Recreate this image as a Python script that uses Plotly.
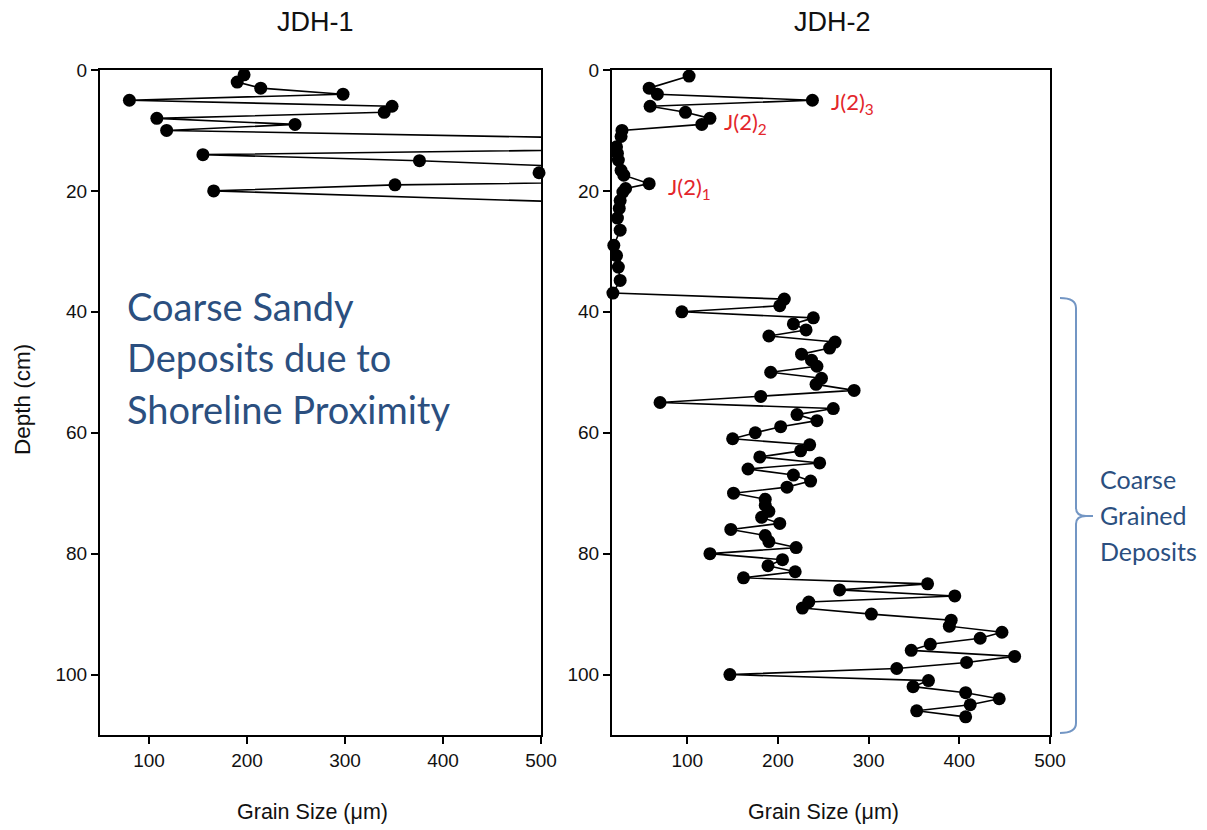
import plotly.graph_objects as go

# ---------------- data ----------------
jdh1_depth = [0.8, 2, 3, 4, 5, 6, 7, 8, 9, 10, 12.4, 14, 15, 16, 17, 18, 19, 20, 22]
jdh1_size = [197, 190, 214, 298, 80, 348, 340, 108, 249, 118, 945, 155, 376, 530, 498, 850, 351, 166, 560]

jdh2_depth = [1, 3, 4, 5, 6, 7, 8, 9, 10, 11, 12.7, 13.8, 14.9, 16.6, 17.4, 18.8, 19.6, 20.2,
              21.6, 22.9, 24.5, 26.5, 29, 30.7, 32.6, 34.8, 36.9, 37.9, 39, 40,
              41, 42, 43, 44, 45, 46, 47, 48, 49, 50, 51, 52, 53, 54, 55, 56, 57, 58, 59, 60,
              61, 62, 63, 64, 65, 66, 67, 68, 69, 70, 71, 72, 73, 74, 75, 76, 77, 78, 79, 80,
              81, 82, 83, 84, 85, 86, 87, 88, 89, 90, 91, 92, 93, 94, 95, 96, 97, 98, 99, 100,
              101, 102, 103, 104, 105, 106, 107]
jdh2_size = [102, 58, 67, 238, 59, 98, 125, 116, 28, 27, 22, 23, 24, 27, 30, 58, 32, 29,
             26, 25, 23, 26, 19, 22, 24, 26, 18, 207, 202, 94,
             239, 217, 231, 190, 263, 257, 226, 237, 243, 192, 248, 242, 284, 181, 70, 261, 221, 243, 203, 175,
             150, 235, 225, 180, 246, 167, 217, 236, 210, 151, 186, 186, 190, 182, 202, 148, 186, 190, 220, 125,
             205, 189, 219, 162, 365, 268, 395, 234, 227, 303, 391, 389, 447, 423, 368, 347, 461, 408, 331, 147,
             366, 349, 407, 444, 412, 353, 407]

x_ticks = [100, 200, 300, 400, 500]
y_ticks = [0, 20, 40, 60, 80, 100]
panel_titles = ["JDH-1", "JDH-2"]
x_title = "Grain Size (\u03bcm)"
y_title = "Depth (cm)"
jdh1_xrange = [50, 500]
jdh2_xrange = [17, 500]
depth_range = [110, 0]

W, H = 1207, 830


def px(x):
    return x / W


def py(y):
    return 1 - y / H


fig = go.Figure()

panels = [
    (jdh1_size, jdh1_depth, jdh1_xrange, "x", "y"),
    (jdh2_size, jdh2_depth, jdh2_xrange, "x2", "y2"),
]
for sizes, depths, xr, xa, ya in panels:
    fig.add_trace(go.Scatter(x=sizes, y=depths, mode="lines", xaxis=xa, yaxis=ya,
                             line=dict(color="black", width=1.6), showlegend=False,
                             hoverinfo="skip"))
    inx = [s for s in sizes if xr[0] <= s <= xr[1]]
    iny = [d for s, d in zip(sizes, depths) if xr[0] <= s <= xr[1]]
    fig.add_trace(go.Scatter(x=inx, y=iny, mode="markers", xaxis=xa, yaxis=ya,
                             marker=dict(color="black", size=13), cliponaxis=False,
                             showlegend=False))

tick_font = dict(family="Liberation Sans, Arial", size=19, color="#111")
axis_common = dict(showline=True, linecolor="black", linewidth=2, mirror=True,
                   ticks="outside", ticklen=7, tickwidth=1.5, tickcolor="black",
                   showgrid=False, zeroline=False, tickfont=tick_font, automargin=False)

ydom = [py(735), py(70)]
fig.update_layout(
    width=W, height=H,
    margin=dict(l=0, r=0, t=0, b=0),
    paper_bgcolor="white", plot_bgcolor="white",
    xaxis=dict(domain=[px(100), px(541)], range=jdh1_xrange, tickvals=x_ticks, anchor="y", **axis_common),
    yaxis=dict(domain=ydom, range=depth_range, tickvals=y_ticks, anchor="x", **axis_common),
    xaxis2=dict(domain=[px(612), px(1050)], range=jdh2_xrange, tickvals=x_ticks, anchor="y2", **axis_common),
    yaxis2=dict(domain=ydom, range=depth_range, tickvals=y_ticks, anchor="x2", **axis_common),
)

ann = []
title_font = dict(family="Liberation Sans, Arial", size=27, color="#111")
ann.append(dict(x=px(315), y=py(22), text=panel_titles[0], font=title_font))
ann.append(dict(x=px(832), y=py(22), text=panel_titles[1], font=title_font))
lab_font = dict(family="Liberation Sans, Arial", size=21.5, color="#111")
ann.append(dict(x=px(312), y=py(812), text=x_title, font=lab_font))
ann.append(dict(x=px(823), y=py(812), text=x_title, font=lab_font))
ann.append(dict(x=px(22), y=py(400), text=y_title, font=dict(lab_font, size=22.5), textangle=-90))

red = "#e3262b"
jfont = dict(family="Lato", size=22, color=red)
ann.append(dict(x=px(829), y=py(103), text="J(2)<sub>3</sub>", font=jfont, xanchor="left"))
ann.append(dict(x=px(722), y=py(123), text="J(2)<sub>2</sub>", font=jfont, xanchor="left"))
ann.append(dict(x=px(666), y=py(188), text="J(2)<sub>1</sub>", font=jfont, xanchor="left"))

blue = "#2b4f7f"
big_font = dict(family="Lato", size=38, color=blue)
for txt, yy in [("Coarse Sandy", 306), ("Deposits due to", 357), ("Shoreline Proximity", 409)]:
    ann.append(dict(x=px(125), y=py(yy), text=txt, font=big_font, xanchor="left"))

small_font = dict(family="Lato", size=25, color=blue)
for txt, yy in [("Coarse", 479), ("Grained", 515), ("Deposits", 551)]:
    ann.append(dict(x=px(1098), y=py(yy), text=txt, font=small_font, xanchor="left"))

for a in ann:
    a.update(xref="paper", yref="paper", showarrow=False)
    a.setdefault("xanchor", "center")
    a.setdefault("yanchor", "middle")
fig.update_layout(annotations=ann)

# curly brace
bx0, bx1, tip = 1060, 1076, 1086
yt, ym, yb = 298, 516, 733
path = (f"M {px(bx0)},{py(yt)} Q {px(bx1)},{py(yt)} {px(bx1)},{py(yt + 10)} "
        f"L {px(bx1)},{py(ym - 8)} Q {px(bx1)},{py(ym)} {px(tip)},{py(ym)} "
        f"Q {px(bx1)},{py(ym)} {px(bx1)},{py(ym + 8)} "
        f"L {px(bx1)},{py(yb - 10)} Q {px(bx1)},{py(yb)} {px(bx0)},{py(yb)}")
fig.add_shape(type="path", path=path, xref="paper", yref="paper",
              line=dict(color="#7396c4", width=2))
fig.add_shape(type="line", xref="paper", yref="paper", x0=px(tip), x1=px(1093), y0=py(ym), y1=py(ym),
              line=dict(color="#7396c4", width=2))

fig.write_html("out.html", config={"displayModeBar": False},
               post_script="document.body.style.margin='0';")
